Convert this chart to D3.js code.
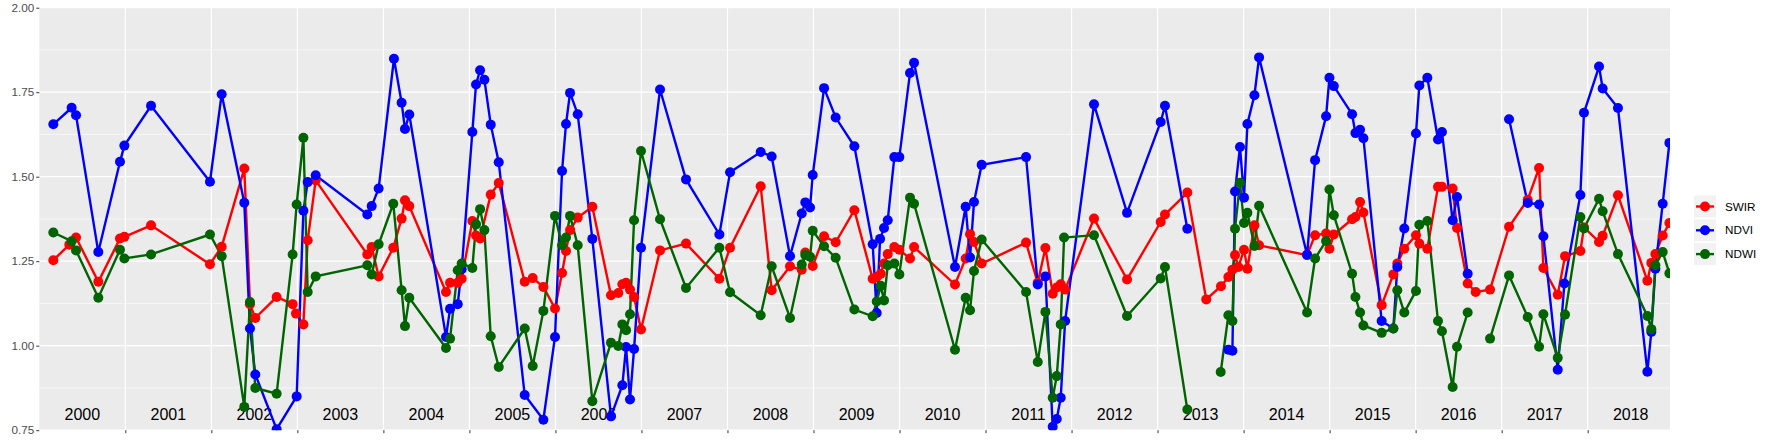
<!DOCTYPE html>
<html><head><meta charset="utf-8">
<script src="https://cdn.jsdelivr.net/npm/d3@7"></script>
<style>body{margin:0;background:#fff}svg{display:block}</style>
</head><body>
<svg id="c" width="1773" height="442"></svg>
<script>
const seriesNames = ["SWIR","NDVI","NDWI"];
const seriesColors = ["#FF0000","#0000FF","#006400"];
const yearLabels = d3.range(2000,2019);
const yTicks = [0.75,1.00,1.25,1.50,1.75,2.00];

// fractional years (offset from 2000) and values; null breaks the line
const swirT = [0.163,0.349,0.427,0.686,0.938,0.989,1.299,1.984,2.120,2.383,2.449,2.511,2.759,2.945,2.984,3.070,3.120,3.213,3.813,3.864,3.945,4.115,4.212,4.251,4.301,4.728,4.775,4.864,4.910,5.034,5.077,5.124,5.248,5.341,5.643,5.736,5.860,5.995,6.077,6.123,6.170,6.259,6.429,6.646,6.731,6.778,6.821,6.867,6.914,6.995,7.216,7.518,7.906,8.030,8.386,8.514,8.727,8.863,8.905,8.991,9.123,9.258,9.475,9.688,9.735,9.782,9.820,9.863,9.940,9.998,10.122,10.169,10.645,10.769,10.820,10.866,10.955,11.471,11.607,11.696,11.781,11.828,11.874,11.925,12.261,12.645,13.036,13.086,13.346,13.566,13.737,13.823,13.870,13.900,13.939,14.005,14.044,14.126,14.180,14.738,14.831,14.959,14.998,15.049,15.261,15.300,15.354,15.393,15.605,15.741,15.787,15.868,16.004,16.043,16.136,16.260,16.306,16.430,16.481,16.605,16.698,16.865,17.086,17.303,17.435,17.485,17.652,17.737,17.915,17.957,18.132,18.174,18.352,18.694,18.740,18.787,18.872,18.950];
const swirV = [1.253,1.299,1.320,1.189,1.317,1.322,1.356,1.241,1.293,1.524,1.123,1.082,1.144,1.123,1.095,1.063,1.312,1.489,1.270,1.292,1.205,1.290,1.376,1.430,1.413,1.159,1.186,1.186,1.198,1.369,1.326,1.317,1.447,1.481,1.189,1.200,1.174,1.110,1.215,1.280,1.342,1.379,1.411,1.149,1.156,1.182,1.186,1.166,1.144,1.048,1.282,1.302,1.198,1.290,1.472,1.164,1.235,1.225,1.276,1.236,1.324,1.306,1.401,1.198,1.203,1.213,1.243,1.271,1.292,1.284,1.258,1.292,1.181,1.258,1.330,1.307,1.243,1.305,1.186,1.289,1.154,1.172,1.182,1.166,1.376,1.196,1.366,1.388,1.453,1.137,1.176,1.203,1.225,1.268,1.233,1.284,1.228,1.356,1.297,1.268,1.327,1.332,1.287,1.329,1.374,1.381,1.425,1.394,1.120,1.211,1.243,1.287,1.327,1.302,1.287,1.470,1.470,1.465,1.348,1.184,1.159,1.166,1.352,1.432,1.526,1.230,1.151,1.265,1.280,1.350,1.307,1.325,1.445,1.192,1.245,1.271,1.326,1.363];

const ndviT = [0.163,0.376,0.427,0.686,0.938,0.989,1.299,1.984,2.120,2.383,2.449,2.511,2.759,2.992,3.070,3.120,3.213,3.813,3.864,3.945,4.123,4.212,4.251,4.301,4.728,4.775,4.864,4.910,5.034,5.077,5.124,5.174,5.248,5.341,5.643,5.860,5.995,6.077,6.123,6.170,6.259,6.429,6.646,6.778,6.821,6.867,6.914,6.995,7.216,7.518,7.906,8.030,8.386,8.514,8.727,8.863,8.905,8.960,8.991,9.123,9.258,9.475,9.688,9.735,9.774,9.820,9.863,9.940,9.998,10.122,10.169,10.645,10.769,10.820,10.866,10.955,11.471,11.607,11.696,11.781,11.828,11.874,11.925,12.261,12.645,13.036,13.086,13.346,13.5,13.823,13.870,13.900,13.958,14.005,14.044,14.126,14.180,14.738,14.831,14.959,14.998,15.049,15.261,15.300,15.354,15.393,15.605,15.741,15.787,15.868,16.004,16.043,16.136,16.260,16.306,16.430,16.481,16.605,16.8,17.086,17.303,17.435,17.485,17.652,17.729,17.915,17.957,18.132,18.174,18.352,18.694,18.740,18.787,18.872,18.950];
const ndviV = [1.655,1.704,1.682,1.277,1.544,1.592,1.710,1.485,1.744,1.423,1.051,0.915,0.753,0.850,1.399,1.484,1.504,1.388,1.413,1.465,1.849,1.719,1.641,1.684,1.026,1.109,1.123,1.226,1.632,1.773,1.815,1.787,1.654,1.543,0.854,0.781,1.026,1.517,1.656,1.748,1.685,1.316,0.791,0.883,0.996,0.841,0.990,1.290,1.758,1.492,1.329,1.513,1.573,1.560,1.265,1.391,1.424,1.409,1.505,1.762,1.675,1.590,1.300,1.097,1.316,1.348,1.371,1.558,1.558,1.807,1.837,1.233,1.411,1.261,1.425,1.535,1.558,1.181,1.205,0.760,0.783,0.846,1.073,1.714,1.393,1.662,1.710,1.346,null,0.988,0.985,1.456,1.588,1.438,1.656,1.741,1.853,1.269,1.549,1.679,1.793,1.768,1.685,1.629,1.639,1.614,1.073,1.051,1.233,1.347,1.628,1.770,1.793,1.610,1.632,1.371,1.440,1.213,null,1.670,1.422,1.418,1.324,0.929,1.184,1.446,1.689,1.826,1.761,1.703,0.923,1.041,1.228,1.420,1.600];

const ndwiT = [0.163,0.376,0.427,0.686,0.938,0.989,1.299,1.984,2.120,2.383,2.449,2.511,2.759,2.945,2.992,3.070,3.120,3.213,3.813,3.864,3.945,4.115,4.212,4.251,4.301,4.728,4.775,4.864,4.910,5.034,5.077,5.124,5.174,5.248,5.341,5.643,5.736,5.860,5.995,6.077,6.123,6.170,6.259,6.429,6.646,6.731,6.778,6.821,6.867,6.914,6.995,7.216,7.518,7.906,8.030,8.386,8.514,8.727,8.863,8.905,8.960,8.991,9.123,9.258,9.475,9.688,9.735,9.782,9.820,9.863,9.940,9.998,10.122,10.169,10.645,10.769,10.820,10.866,10.955,11.471,11.607,11.696,11.781,11.828,11.874,11.913,12.261,12.645,13.036,13.086,13.346,13.5,13.734,13.823,13.870,13.900,13.958,14.005,14.044,14.126,14.180,14.738,14.831,14.959,14.998,15.049,15.261,15.300,15.354,15.393,15.605,15.741,15.787,15.868,16.004,16.043,16.136,16.260,16.306,16.430,16.481,16.605,16.7,16.865,17.086,17.303,17.435,17.485,17.652,17.737,17.915,17.957,18.132,18.174,18.352,18.694,18.740,18.787,18.872,18.950];
const ndwiV = [1.335,1.309,1.282,1.142,1.284,1.258,1.270,1.329,1.265,0.819,1.129,0.875,0.858,1.270,1.418,1.615,1.159,1.205,1.238,1.211,1.300,1.420,1.164,1.058,1.142,0.993,1.021,1.223,1.243,1.230,1.359,1.404,1.342,1.028,0.937,1.051,0.940,1.103,1.384,1.297,1.320,1.384,1.297,0.836,1.009,0.999,1.063,1.046,1.093,1.371,1.576,1.374,1.171,1.290,1.158,1.090,1.235,1.082,1.240,1.268,1.263,1.340,1.294,1.260,1.107,1.087,1.131,1.177,1.134,1.238,1.243,1.211,1.438,1.420,0.988,1.142,1.105,1.221,1.314,1.159,0.952,1.100,0.846,0.910,1.063,1.320,1.327,1.088,1.199,1.233,0.811,null,0.922,1.090,1.073,1.346,1.482,1.363,1.393,1.295,1.414,1.098,1.258,1.310,1.462,1.386,1.213,1.144,1.098,1.060,1.038,1.051,1.164,1.098,1.162,1.358,1.369,1.073,1.043,0.878,0.997,1.098,null,1.021,1.208,1.085,0.997,1.093,0.964,1.092,1.381,1.347,1.435,1.398,1.271,1.088,1.049,1.238,1.277,1.214];

const series = [
  {name:"SWIR", color:seriesColors[0], pts:swirT.map((t,i)=>({t:2000+t,v:swirV[i]}))},
  {name:"NDVI", color:seriesColors[1], pts:ndviT.map((t,i)=>({t:2000+t,v:ndviV[i]}))},
  {name:"NDWI", color:seriesColors[2], pts:ndwiT.map((t,i)=>({t:2000+t,v:ndwiV[i]}))}
];

const L=39.3, R=1670, T=7.7, B=430.2;
const x = d3.scaleLinear().domain([2000.0,2018.957]).range([L,R]);
const y = d3.scaleLinear().domain([0.75,2.0]).range([B,T]);
const svg = d3.select("#c");
const font = "'Liberation Sans', Arial, sans-serif";

svg.append("rect").attr("x",L).attr("y",T).attr("width",R-L).attr("height",B-T).attr("fill","#EBEBEB");
const minor = d3.range(0.875,2.0,0.25);
svg.append("g").selectAll("line").data(minor).join("line")
  .attr("x1",L).attr("x2",R).attr("y1",d=>y(d)).attr("y2",d=>y(d)).attr("stroke","#fff").attr("stroke-width",0.6);
svg.append("g").selectAll("line").data(yTicks).join("line")
  .attr("x1",L).attr("x2",R).attr("y1",d=>y(d)).attr("y2",d=>y(d)).attr("stroke","#fff").attr("stroke-width",1.2);
const xTicks = d3.range(2001,2019);
svg.append("g").selectAll("line").data(xTicks).join("line")
  .attr("y1",T).attr("y2",B).attr("x1",d=>x(d)).attr("x2",d=>x(d)).attr("stroke","#fff").attr("stroke-width",1.2);

// year labels inside plot
svg.append("g").selectAll("text").data(yearLabels).join("text")
  .attr("x",d=>x(d+0.5)).attr("y",420).attr("text-anchor","middle")
  .attr("font-family",font).attr("font-size",16).attr("fill","#000").text(d=>d);

const line = d3.line().defined(d=>d.v!==null).x(d=>x(d.t)).y(d=>y(d.v));
const clip = svg.append("clipPath").attr("id","cp").append("rect").attr("x",L).attr("y",T).attr("width",R-L).attr("height",B-T);
const gData = svg.append("g").attr("clip-path","url(#cp)");
series.forEach(s=>{
  gData.append("path").datum(s.pts).attr("d",line).attr("fill","none").attr("stroke",s.color).attr("stroke-width",2.4);
});
series.forEach(s=>{
  gData.append("g").selectAll("circle").data(s.pts.filter(d=>d.v!==null)).join("circle")
    .attr("cx",d=>x(d.t)).attr("cy",d=>y(d.v)).attr("r",5).attr("fill",s.color);
});

// axes
const ya = svg.append("g").attr("transform",`translate(${L},0)`)
  .call(d3.axisLeft(y).tickValues(yTicks).tickFormat(d3.format(".2f")).tickSize(3).tickPadding(2));
ya.select(".domain").remove();
ya.selectAll("line").attr("stroke","#333");
ya.selectAll("text").attr("font-family",font).attr("font-size",11.7).attr("fill","#4D4D4D");
const xa = svg.append("g").attr("transform",`translate(0,${B})`)
  .call(d3.axisBottom(x).tickValues(xTicks).tickFormat("").tickSize(3));
xa.select(".domain").remove();
xa.selectAll("line").attr("stroke","#333");

// legend
const lg = svg.append("g").attr("transform","translate(1694,195.5)");
seriesNames.forEach((n,i)=>{
  const g = lg.append("g").attr("transform",`translate(0,${i*23.8})`);
  g.append("rect").attr("width",22).attr("height",22).attr("fill","#F2F2F2");
  g.append("line").attr("x1",2).attr("x2",20).attr("y1",11).attr("y2",11).attr("stroke",seriesColors[i]).attr("stroke-width",2.4);
  g.append("circle").attr("cx",11).attr("cy",11).attr("r",5).attr("fill",seriesColors[i]);
  g.append("text").attr("x",31).attr("y",15.2).attr("font-family",font).attr("font-size",11.7).attr("fill","#000").text(n);
});
</script>
</body></html>
